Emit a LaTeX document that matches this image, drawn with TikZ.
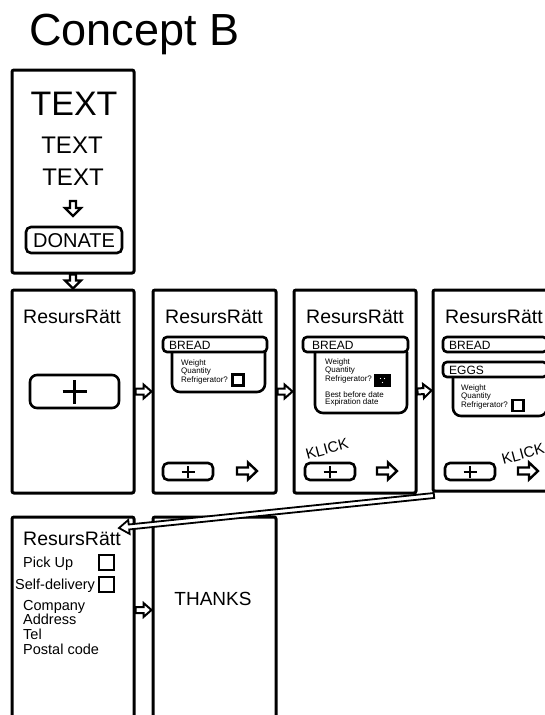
\documentclass[tikz,border=0pt]{standalone}
\usepackage{fontspec}
\setmainfont{Liberation Sans}
\usetikzlibrary{calc}
\newcommand{\fsz}[1]{\fontsize{#1}{#1}\selectfont}
\tikzset{
  panel/.style={draw, line width=3pt, rounded corners=2pt, inner sep=0pt},
  btn/.style={draw, line width=2.6pt, rounded corners=5pt, inner sep=0pt},
  chk/.style={draw, line width=2.4pt, inner sep=0pt},
  lbl/.style={inner sep=0pt, anchor=base west},
  ctr/.style={inner sep=0pt, anchor=base},
  detail/.style={line width=2.6pt, rounded corners=8pt},
  hollow/.style args={#1/#2/#3/#4}{draw=black, fill=white, line width=#4, line join=miter,
    to path={
      ($(\tikztostart)!#1!90:(\tikztotarget)$) --
      ($(\tikztotarget)!#3!(\tikztostart)!#1!-90:(\tikztostart)$) --
      ($(\tikztotarget)!#3!(\tikztostart)!#2!-90:(\tikztostart)$) --
      (\tikztotarget) --
      ($(\tikztotarget)!#3!(\tikztostart)!#2!90:(\tikztostart)$) --
      ($(\tikztotarget)!#3!(\tikztostart)!#1!90:(\tikztostart)$) --
      ($(\tikztostart)!#1!-90:(\tikztotarget)$) -- cycle}},
  link/.style={hollow=3pt/7pt/8pt/2pt},
  nextarr/.style={hollow=3.5pt/8.5pt/9pt/2.4pt},
}
\begin{document}
\begin{tikzpicture}[x=1pt,y=-1pt]
\clip (0,0) rectangle (545,715);
\fill[white] (0,0) rectangle (545,715);

% title
\node[lbl, font=\fsz{45}] (title) at (29,45) {Concept B};

% ---------- panel 0 ----------
\node[panel, minimum width=122pt, minimum height=203pt] (p0) at (73,171.5) {};
\node[ctr, font=\fsz{34}] (t1) at (74,115) {TEXT};
\node[ctr, font=\fsz{24}] (t2) at (72,153) {TEXT};
\node[ctr, font=\fsz{24}] (t3) at (73,185) {TEXT};
\coordinate (a0s) at (73,201);
\coordinate (a0e) at (73,216);
\draw[hollow=3pt/8pt/8pt/2.2pt] (a0s) to (a0e);
\node[btn, minimum width=96pt, minimum height=26pt] (donate) at (74,240) {};
\node[ctr, font=\fsz{20}] (donatet) at (74,247) {DONATE};

% ---------- panel 1 ----------
\node[panel, minimum width=122pt, minimum height=203pt] (p1) at (73,391.5) {};
\node[ctr, font=\fsz{19.5}] (h1) at (72,323) {ResursRätt};
\node[btn, rounded corners=7pt, minimum width=89pt, minimum height=33pt] (b1) at (74.5,391.5) {};
\draw[line width=3.5pt] ([xshift=-12pt]b1.center) -- ([xshift=12pt]b1.center);
\draw[line width=3.5pt] ([yshift=-12pt]b1.center) -- ([yshift=12pt]b1.center);

% ---------- panel 2 ----------
\node[panel, minimum width=123pt, minimum height=203pt] (p2) at (214.5,391.5) {};
\node[ctr, font=\fsz{19.5}] (h2) at (214,323) {ResursRätt};
\draw[detail] (172,352) -- (172,392) -- (265,392) -- (265,352);
\node[btn, fill=white, rounded corners=4pt, minimum width=104pt, minimum height=15pt] (br2) at (215,344.5) {};
\node[lbl, font=\fsz{12}] (br2t) at (169,349) {BREAD};
\node[lbl, font=\fsz{8}] (w2) at (181,365) {Weight};
\node[lbl, font=\fsz{8}] (q2) at (181,373) {Quantity};
\node[lbl, font=\fsz{8}] (r2) at (181,382) {Refrigerator?};
\node[chk, minimum size=11pt] (c2) at (238,380) {};
\node[btn, minimum width=50pt, minimum height=17pt] (b2) at (188,471.5) {};
\draw[line width=2pt] ([xshift=-6.5pt]b2.center) -- ([xshift=6.5pt]b2.center);
\draw[line width=2pt] ([yshift=-6pt]b2.center) -- ([yshift=6pt]b2.center);
\coordinate (n2s) at (237,471);
\coordinate (n2e) at (257,471);
\draw[nextarr] (n2s) to (n2e);

% ---------- panel 3 ----------
\node[panel, minimum width=122pt, minimum height=203pt] (p3) at (355,391.5) {};
\node[ctr, font=\fsz{19.5}] (h3) at (355,323) {ResursRätt};
\draw[detail] (315,352) -- (315,413) -- (407,413) -- (407,352);
\node[btn, fill=white, rounded corners=4pt, minimum width=105pt, minimum height=15pt] (br3) at (355.5,344.5) {};
\node[lbl, font=\fsz{12}] (br3t) at (312,349) {BREAD};
\node[lbl, font=\fsz{8}] (w3) at (325,364) {Weight};
\node[lbl, font=\fsz{8}] (q3) at (325,372) {Quantity};
\node[lbl, font=\fsz{8}] (r3) at (325,381) {Refrigerator?};
\node[lbl, font=\fsz{8}] (bb3) at (325,397) {Best before date};
\node[lbl, font=\fsz{8}] (ex3) at (325,404) {Expiration date};
\node[chk, fill=black, minimum width=14pt, minimum height=11pt] (c3) at (382.5,380.5) {};
\fill[white] (380.5,378.5) circle (0.7pt) (384.5,378.5) circle (0.7pt) (382.5,382.5) circle (0.7pt);
\node[inner sep=0pt, font=\fsz{15}, rotate=15] (k3) at (327,449) {KLICK};
\node[btn, minimum width=50pt, minimum height=17pt] (b3) at (330,471.5) {};
\draw[line width=2pt] ([xshift=-6.5pt]b3.center) -- ([xshift=6.5pt]b3.center);
\draw[line width=2pt] ([yshift=-6pt]b3.center) -- ([yshift=6pt]b3.center);
\coordinate (n3s) at (377,471);
\coordinate (n3e) at (397,471);
\draw[nextarr] (n3s) to (n3e);

% ---------- panel 4 ----------
\node[panel, minimum width=167pt, minimum height=201pt] (p4) at (516.5,390.5) {};
\node[ctr, font=\fsz{19.5}] (h4) at (494,323) {ResursRätt};
\draw[detail] (453,377) -- (453,416) -- (547,416) -- (547,377);
\node[btn, fill=white, rounded corners=4pt, minimum width=104pt, minimum height=15pt] (br4) at (495,344.5) {};
\node[lbl, font=\fsz{12}] (br4t) at (449,349) {BREAD};
\node[btn, fill=white, rounded corners=4pt, minimum width=104pt, minimum height=15pt] (eg4) at (495,369.5) {};
\node[lbl, font=\fsz{12}] (eg4t) at (449,374) {EGGS};
\node[lbl, font=\fsz{8}] (w4) at (461,390) {Weight};
\node[lbl, font=\fsz{8}] (q4) at (461,398.5) {Quantity};
\node[lbl, font=\fsz{8}] (r4) at (461,407.5) {Refrigerator?};
\node[chk, minimum size=11pt] (c4) at (518,405.5) {};
\node[inner sep=0pt, font=\fsz{15}, rotate=15] (k4) at (523,454) {KLICK};
\node[btn, minimum width=50pt, minimum height=17pt] (b4) at (470,471.5) {};
\draw[line width=2pt] ([xshift=-6.5pt]b4.center) -- ([xshift=6.5pt]b4.center);
\draw[line width=2pt] ([yshift=-6pt]b4.center) -- ([yshift=6pt]b4.center);
\coordinate (n4s) at (518,471);
\coordinate (n4e) at (538,471);
\draw[nextarr] (n4s) to (n4e);

% ---------- panel 5 ----------
\node[panel, minimum width=122pt, minimum height=243pt] (p5) at (73,638.5) {};
\node[ctr, font=\fsz{19.5}] (h5) at (72,545) {ResursRätt};
\node[lbl, font=\fsz{14.5}] (pu) at (23,567) {Pick Up};
\node[chk, minimum size=15pt] (cpu) at (106.5,562.5) {};
\node[lbl, font=\fsz{14.5}] (sd) at (15,589) {Self-delivery};
\node[chk, minimum size=15pt] (csd) at (106.5,584.5) {};
\node[lbl, font=\fsz{14.5}] (co) at (23,610) {Company};
\node[lbl, font=\fsz{14.5}] (ad) at (23,624) {Address};
\node[lbl, font=\fsz{14.5}] (te) at (23,639) {Tel};
\node[lbl, font=\fsz{14.5}] (pc) at (23,654) {Postal code};

% ---------- panel 6 ----------
\node[panel, minimum width=123pt, minimum height=243pt] (p6) at (214.5,638.5) {};
\node[ctr, font=\fsz{19}] (th) at (213,605) {THANKS};

% ---------- connectors ----------
\draw[hollow=3pt/8pt/8pt/2.2pt] (p0.south) to (p1.north);
\draw[link] (p1.east) to (p2.west);
\draw[link] (p2.east) to (p3.west);
\draw[link] (p3.east) to (p4.west);
\draw[link] ([yshift=28.5pt]p5.east) to ([yshift=28.5pt]p6.west);
\coordinate (dtip) at (119,528);
\draw[hollow=2.5pt/7pt/10pt/1.8pt] ([xshift=2.5pt,yshift=-3pt]p4.south west) to (dtip);
\end{tikzpicture}
\end{document}
